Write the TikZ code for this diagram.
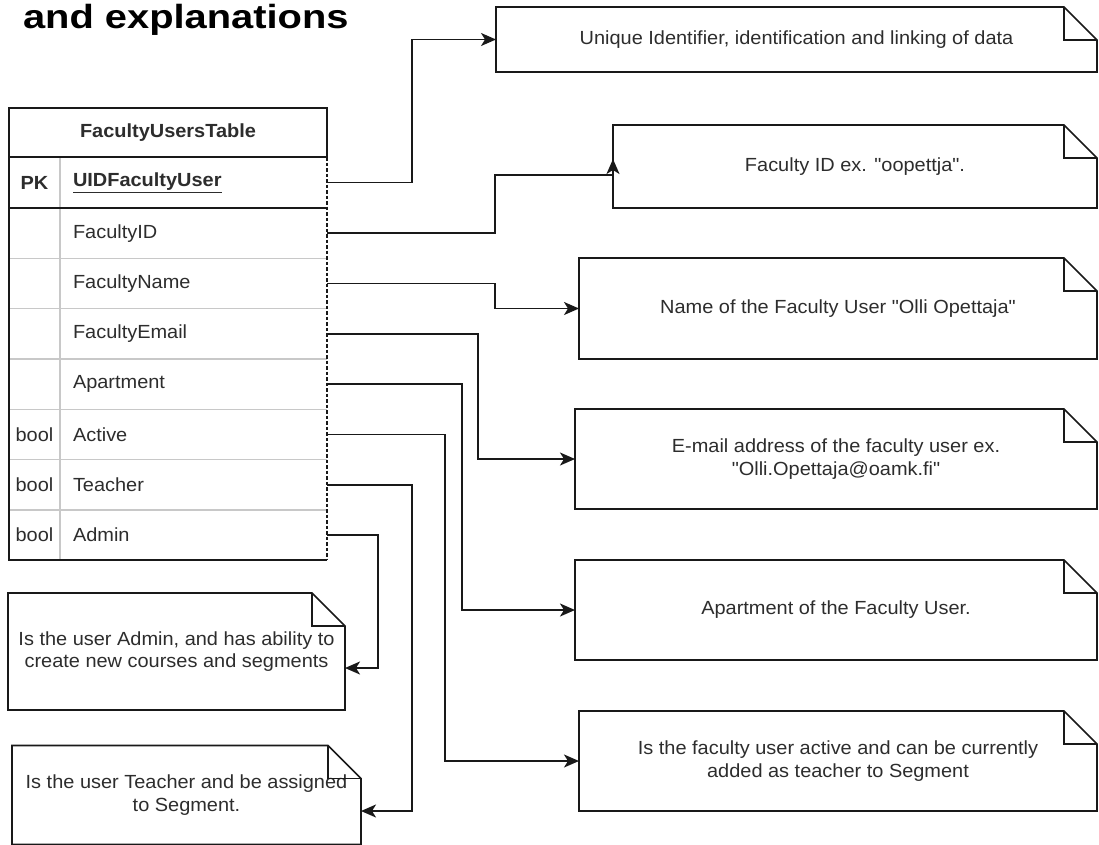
\documentclass[tikz,border=0pt]{standalone}
\usepackage{fontspec}
\setmainfont{Liberation Sans}[FakeStretch=1.05, Ligatures=TeXOff]
\newfontfamily\titlefont{Liberation Sans}[FakeStretch=1.19]
\usetikzlibrary{arrows.meta}
\definecolor{ink}{RGB}{25,25,25}
\definecolor{txt}{RGB}{45,45,45}
\definecolor{sepgray}{RGB}{200,200,200}
\newcommand{\bodyfont}{\fontsize{19}{22.5}\selectfont}

\begin{document}
\begin{tikzpicture}[x=1pt,y=-1pt,
  every node/.style={inner sep=0pt, outer sep=0pt, font=\bodyfont, text=txt},
  notebox/.style={rectangle, align=center},
  noteline/.style={draw=ink, line width=1.6pt, line join=miter},
  conn/.style={draw=ink, line width=1.7pt, -{Stealth[length=15pt,width=13pt,inset=4pt]}},
  frame/.style={draw=ink, line width=1.6pt},
  rowsep/.style={draw=sepgray, line width=1.4pt},
  keycell/.style={rectangle, minimum width=51pt, minimum height=50.3pt},
  fieldcell/.style={rectangle, minimum height=50.3pt, text width=241pt, inner xsep=13pt, align=left},
]
\fill[white] (0,0) rectangle (1099,844);
\useasboundingbox (0,0) rectangle (1099,844);

% heading
\node[anchor=base west, font=\titlefont\fontsize{33.5}{40}\selectfont\bfseries, text=black] (title) at (23,28) {and explanations};

% ---------------- table ----------------
\node[rectangle, minimum width=318pt, minimum height=49pt, font=\bodyfont\bfseries] (hdr) at (168,132.5) {FacultyUsersTable};

\node[keycell, minimum height=51pt, font=\bodyfont\bfseries] (k1) at (34.5,182.5) {PK};
\node[fieldcell, minimum height=51pt, font=\bodyfont\bfseries] (f1) at (193.5,182.5) {\underline{UIDFacultyUser}};

\node[keycell] (k2) at (34.5,233.15) {};
\node[fieldcell] (f2) at (193.5,233.15) {FacultyID};
\node[keycell] (k3) at (34.5,283.45) {};
\node[fieldcell] (f3) at (193.5,283.45) {FacultyName};
\node[keycell] (k4) at (34.5,333.75) {};
\node[fieldcell] (f4) at (193.5,333.75) {FacultyEmail};
\node[keycell] (k5) at (34.5,384.05) {};
\node[fieldcell] (f5) at (193.5,384.05) {Apartment};
\node[keycell] (k6) at (34.5,434.35) {bool};
\node[fieldcell] (f6) at (193.5,434.35) {Active};
\node[keycell] (k7) at (34.5,484.65) {bool};
\node[fieldcell] (f7) at (193.5,484.65) {Teacher};
\node[keycell] (k8) at (34.5,534.95) {bool};
\node[fieldcell] (f8) at (193.5,534.95) {Admin};

% light row separators and column divider
\foreach \i in {2,...,7} {
  \draw[rowsep] (k\i.south west) -- (f\i.south east);
}
\draw[rowsep] (k1.north east) -- (k8.south east);

% table frame
\draw[frame] (hdr.north west) rectangle (hdr.south east);
\draw[frame] (k1.south west) -- (f1.south east);
\draw[frame] (k1.north west) -- (k8.south west) -- (f8.south east);
\draw[draw=ink, line width=1.1pt, dash pattern=on 3.5pt off 2pt] (f1.north east) -- (f8.south east);

% ---------------- notes ----------------
\node[notebox, minimum width=601pt, minimum height=65pt] (n1) at (796.5,39.5)
  {Unique Identifier, identification and linking of data};
\node[notebox, minimum width=484pt, minimum height=83pt] (n2) at (855,166.5)
  {Faculty ID ex. "oopettja".};
\node[notebox, minimum width=518pt, minimum height=101pt] (n3) at (838,308.5)
  {Name of the Faculty User "Olli Opettaja"};
\node[notebox, minimum width=522pt, minimum height=100pt] (n4) at (836,459)
  {E-mail address of the faculty user ex.\\"Olli.Opettaja@oamk.fi"};
\node[notebox, minimum width=522pt, minimum height=100pt] (n5) at (836,610)
  {Apartment of the Faculty User.};
\node[notebox, minimum width=518pt, minimum height=100pt] (n6) at (838,761)
  {Is the faculty user active and can be currently\\added as teacher to Segment};
\node[notebox, minimum width=337pt, minimum height=117pt] (n7) at (176.5,651.5)
  {Is the user Admin, and has ability to\\create new courses and segments};
\node[notebox, minimum width=349pt, minimum height=99pt] (n8) at (186.5,795)
  {Is the user Teacher and be assigned\\to Segment.};

% note outlines with folded corner
\foreach \n in {n1,n2,n3,n4,n5,n6,n7,n8} {
  \draw[noteline] (\n.north west) -- ([xshift=-33pt]\n.north east)
    -- ([yshift=-33pt]\n.north east) -- (\n.south east) -- (\n.south west) -- cycle;
  \draw[noteline] ([xshift=-33pt]\n.north east) |- ([yshift=-33pt]\n.north east);
}

% ---------------- connectors ----------------
\draw[conn] (f1.east) -- ++(85,0) |- (n1.west);
\draw[conn] (f2.east) -- ++(168,0) |- ([yshift=-8.5pt]n2.west) -- ++(0,-16);
\draw[conn] (f3.east) -- ++(168,0) |- (n3.west);
\draw[conn] (f4.east) -- ++(151,0) |- (n4.west);
\draw[conn] (f5.east) -- ++(135,0) |- (n5.west);
\draw[conn] (f6.east) -- ++(118,0) |- (n6.west);
\draw[conn] (f7.east) -- ++(85,0) |- ([yshift=-16pt]n8.east);
\draw[conn] (f8.east) -- ++(51,0) |- ([yshift=-16.5pt]n7.east);
\end{tikzpicture}
\end{document}
